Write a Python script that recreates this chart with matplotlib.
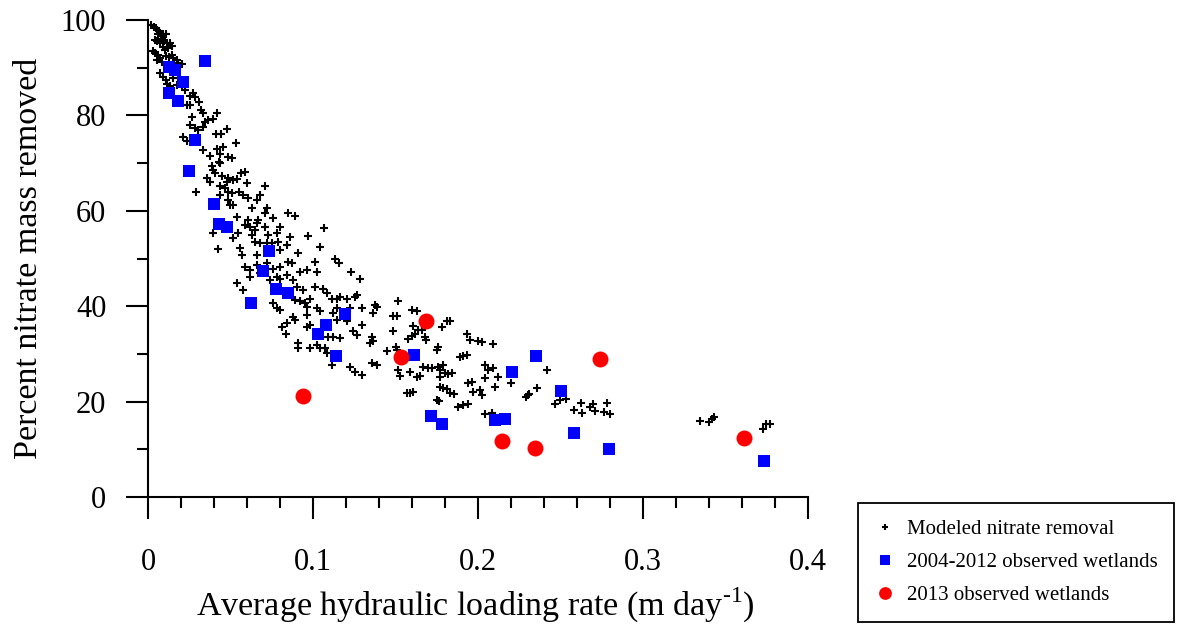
import numpy as np
import matplotlib
matplotlib.use("Agg")
import matplotlib.pyplot as plt
from matplotlib.ticker import MultipleLocator

plt.rcParams["font.family"] = ["Liberation Serif", "DejaVu Serif"]
plt.rcParams["mathtext.fontset"] = "custom"
plt.rcParams["mathtext.rm"] = "Liberation Serif"

# -------- DATA --------
# modeled nitrate removal: (hydraulic loading rate, percent removed)
model_x = [
    0.0020, 0.0036, 0.0048, 0.0057, 0.0069, 0.0063, 0.0077, 0.0093, 0.0109, 0.0083,
    0.0097, 0.0113, 0.0133, 0.0143, 0.0123, 0.0103, 0.0089, 0.0073, 0.0053, 0.0042,
    0.0032, 0.0042, 0.0063, 0.0073, 0.0053, 0.0083, 0.0109, 0.0129, 0.0143, 0.0154,
    0.0174, 0.0204, 0.0184, 0.0073, 0.0093, 0.0109, 0.0117, 0.0133, 0.0154, 0.0174,
    0.0204, 0.0224, 0.0255, 0.0275, 0.0285, 0.0311, 0.0234, 0.0255, 0.0321, 0.0335,
    0.0420, 0.0265, 0.0255, 0.0285, 0.0305, 0.0345, 0.0366, 0.0392, 0.0335, 0.0477,
    0.0412, 0.0442, 0.0214, 0.0234, 0.0335, 0.0420, 0.0436, 0.0453, 0.0531, 0.0376,
    0.0432, 0.0483, 0.0507, 0.0386, 0.0396, 0.0406, 0.0436, 0.0356, 0.0376, 0.0446,
    0.0487, 0.0481, 0.0517, 0.0537, 0.0562, 0.0588, 0.0598, 0.0436, 0.0467, 0.0487,
    0.0507, 0.0554, 0.0578, 0.0608, 0.0659, 0.0679, 0.0709, 0.0291, 0.0436, 0.0487,
    0.0497, 0.0517, 0.0719, 0.0628,
    0.0392, 0.0426, 0.0558, 0.0568, 0.0517, 0.0547, 0.0537, 0.0588, 0.0618, 0.0608,
    0.0659, 0.0669, 0.0648, 0.0628, 0.0709, 0.0709, 0.0760, 0.0800, 0.0780, 0.0790,
    0.0729, 0.0749, 0.0861, 0.0851, 0.0891, 0.0972, 0.1067, 0.1042, 0.0911, 0.0840,
    0.0800, 0.0719, 0.0679, 0.0648, 0.0659, 0.0588, 0.0618, 0.0659, 0.0719, 0.0760,
    0.0800, 0.0851, 0.0871, 0.0780, 0.0800, 0.0840, 0.0881, 0.0901, 0.0941, 0.0921,
    0.0962, 0.1012, 0.1026, 0.1133, 0.1160, 0.1228, 0.1285, 0.0537, 0.0578, 0.0618,
    0.0679, 0.0739, 0.0756, 0.0780, 0.0800, 0.0891, 0.0921, 0.0952, 0.0962, 0.0982,
    0.1012, 0.1063, 0.1083, 0.1113, 0.1143, 0.1164, 0.1204, 0.1255, 0.1265, 0.1295,
    0.1224, 0.1143, 0.1123, 0.1042, 0.1022, 0.0962, 0.0881, 0.0962, 0.0982, 0.0810,
    0.0836, 0.0840, 0.0891, 0.1143, 0.1204, 0.1244, 0.1265, 0.1295, 0.1356, 0.1345,
    0.1366, 0.1376, 0.1386, 0.1366, 0.1093, 0.1123, 0.1164, 0.1022, 0.1042, 0.0911,
    0.0911, 0.0982, 0.1073, 0.1083, 0.1113, 0.1224, 0.1255, 0.1295, 0.1356, 0.1386,
    0.1517, 0.1487, 0.1507, 0.1598, 0.1628, 0.1608, 0.1638, 0.1659, 0.1679, 0.1685,
    0.1780, 0.1810, 0.1830, 0.1578, 0.1598, 0.1618, 0.1483, 0.1446, 0.1501, 0.1507,
    0.1517, 0.1527, 0.1588, 0.1628, 0.1648, 0.1669, 0.1699, 0.1719, 0.1760, 0.1770,
    0.1786, 0.1800, 0.1820, 0.1840, 0.1750, 0.1760, 0.1770, 0.1931, 0.1952, 0.2002,
    0.2022, 0.2089, 0.1891, 0.1911, 0.1931, 0.2042, 0.2063, 0.2093, 0.2123, 0.1941,
    0.1962, 0.1972, 0.2012, 0.2022, 0.2042, 0.2103, 0.1770, 0.1790, 0.1810, 0.1830,
    0.1855, 0.1750, 0.1766, 0.1568, 0.1588, 0.1608, 0.1881, 0.1911, 0.1941, 0.2042,
    0.2083,
    0.2416, 0.2360, 0.2291, 0.2301, 0.2311, 0.2467, 0.2497, 0.2533, 0.2622, 0.2582,
    0.2628, 0.2679, 0.2695, 0.2709, 0.2766, 0.2800, 0.2780, 0.2200,
    0.3345, 0.3402, 0.3416, 0.3430, 0.3729, 0.3745, 0.3770,
]
model_y = [
    99.0, 98.6, 98.3, 97.9, 97.6, 97.1, 96.6, 97.1, 97.1, 96.0,
    95.5, 95.1, 95.1, 94.5, 94.1, 93.8, 94.3, 95.1, 95.5, 95.8,
    93.4, 93.0, 92.7, 92.0, 91.6, 91.1, 92.5, 92.3, 92.7, 92.0,
    91.6, 90.8, 90.9, 88.8, 88.1, 87.4, 86.6, 86.2, 87.8, 86.4,
    86.4, 85.3, 84.1, 84.6, 83.8, 82.9, 82.2, 82.2, 81.1, 80.4,
    80.4, 79.7, 78.0, 77.3, 76.9, 78.7, 79.0, 79.2, 77.6, 77.1,
    76.1, 76.2, 75.5, 74.7, 72.7, 72.9, 72.0, 73.4, 74.3, 71.5,
    70.3, 71.3, 71.0, 69.3, 68.6, 67.9, 70.0, 66.8, 66.1, 67.2,
    66.8, 66.1, 66.5, 66.6, 68.0, 68.1, 65.8, 65.1, 64.7, 64.0,
    63.7, 64.0, 63.3, 62.6, 62.3, 63.3, 65.1, 64.0, 63.3, 62.3,
    61.2, 61.2, 60.5, 60.5,
    55.3, 51.9, 52.1, 50.7, 54.2, 55.3, 58.8, 57.0, 56.7, 58.1,
    57.4, 58.1, 56.0, 54.9, 56.7, 59.5, 58.4, 56.7, 55.3, 53.5,
    54.9, 53.2, 54.6, 59.6, 58.9, 54.7, 56.3, 52.5, 51.1, 52.8,
    51.8, 53.2, 53.2, 53.5, 50.7, 48.3, 47.6, 48.6, 49.0, 47.9,
    48.3, 49.3, 49.0, 46.2, 45.8, 46.5, 45.5, 44.1, 43.4, 47.2,
    47.6, 49.3, 47.2, 50.0, 49.1, 47.2, 45.8, 44.8, 43.4, 46.2,
    46.9, 45.5, 40.6, 39.6, 39.2, 41.3, 41.0, 40.6, 39.9, 41.6,
    44.1, 43.7, 42.7, 41.6, 41.6, 42.0, 41.6, 42.0, 42.3, 39.6,
    39.6, 39.6, 38.5, 38.9, 39.6, 38.2, 37.8, 35.7, 36.1, 35.7,
    34.1, 36.4, 37.1, 37.1, 36.8, 34.7, 34.0, 36.1, 33.6, 32.2,
    32.6, 40.3, 39.9, 38.5, 33.6, 33.6, 33.3, 31.9, 31.2, 32.2,
    31.2, 31.2, 31.2, 30.1, 27.7, 27.3, 26.3, 25.6, 28.0, 27.7,
    41.0, 38.0, 38.0, 39.1, 38.9, 35.8, 35.0, 35.0, 33.5, 32.9,
    35.7, 36.8, 37.0, 33.1, 33.8, 34.1, 34.7, 30.6, 31.4, 30.8,
    26.6, 25.4, 26.3, 25.1, 25.4, 27.3, 27.0, 27.0, 27.2, 26.6,
    27.7, 25.9, 25.7, 25.9, 30.8, 31.5, 25.1, 34.2, 32.9, 32.8,
    32.4, 32.1, 29.3, 29.6, 29.8, 27.7, 26.6, 27.0, 25.2, 24.0,
    24.2, 22.1, 22.4, 21.4, 24.9, 23.1, 23.1, 22.8, 22.6, 21.7,
    21.6, 20.3, 20.1, 21.7, 21.7, 22.1, 18.9, 19.3, 19.6, 17.5,
    17.7,
    26.6, 22.9, 20.9, 21.4, 21.6, 19.6, 20.3, 20.5, 19.8, 18.2,
    17.7, 18.8, 19.4, 18.1, 17.8, 17.5, 19.8, 24.0,
    16.0, 15.8, 16.3, 16.7, 14.3, 15.4, 15.3,
]

# 2004-2012 observed wetlands
obs_x = [0.0129, 0.0162, 0.0214, 0.0125, 0.0182, 0.0347, 0.0285, 0.0250, 0.0400, 0.0432,
         0.0477, 0.0733, 0.0697, 0.0774, 0.0848, 0.0622, 0.1192, 0.1079, 0.1030, 0.1139,
         0.1610, 0.1717, 0.1780, 0.2101, 0.2164, 0.2350, 0.2208, 0.2503, 0.2580, 0.2796,
         0.3731]
obs_y = [90.2, 89.5, 86.9, 84.6, 83.0, 91.4, 74.8, 68.3, 61.4, 57.2,
         56.5, 51.6, 47.4, 43.6, 42.7, 40.6, 38.3, 36.0, 34.1, 29.6,
         29.7, 16.9, 15.2, 16.1, 16.4, 29.5, 26.2, 22.3, 13.5, 10.0,
         7.5]

# 2013 observed wetlands
obs13_x = [0.1687, 0.1533, 0.0941, 0.2737, 0.2147, 0.2345, 0.3610]
obs13_y = [37.0, 29.4, 21.2, 29.0, 11.7, 10.3, 12.4]

x_ticks = [0, 0.1, 0.2, 0.3, 0.4]
x_ticklabels = ["0", "0.1", "0.2", "0.3", "0.4"]

# -------- PLOT --------
fig = plt.figure(figsize=(11.77, 6.25), dpi=100)
ax = fig.add_axes([148 / 1177, 128 / 625, 660 / 1177, 477 / 625])

ax.plot(model_x, model_y, "+", color="black", ms=5.5, mew=1.5, ls="none",
        label="Modeled nitrate removal")
ax.plot(obs_x, obs_y, "s", color="#0000ff", ms=8.5, mew=0, ls="none",
        label="2004-2012 observed wetlands")
ax.plot(obs13_x, obs13_y, "o", color="#ff0000", ms=11.5, mew=0, ls="none",
        label="2013 observed wetlands")

ax.set_xlim(0, 0.4)
ax.set_ylim(0, 100)
ax.set_xticks(x_ticks)
ax.set_xticklabels(x_ticklabels)
ax.xaxis.set_minor_locator(MultipleLocator(0.02))
ax.yaxis.set_major_locator(MultipleLocator(20))
ax.yaxis.set_minor_locator(MultipleLocator(10))

for side in ["top", "right"]:
    ax.spines[side].set_visible(False)
for side in ["left", "bottom"]:
    ax.spines[side].set_linewidth(1.5)

ax.tick_params(which="major", direction="out", length=16, width=1.5, labelsize=22)
ax.tick_params(which="minor", direction="out", length=8, width=1.5)
ax.tick_params(axis="x", which="major", pad=21)
ax.tick_params(axis="y", which="major", pad=14)

ax.set_xlabel("Average hydraulic loading rate (m day$^{\\mathregular{\u20101}}$)", fontsize=24.5)
ax.set_ylabel("Percent nitrate mass removed", fontsize=24.5)
ax.xaxis.set_label_coords(475 / 1177, 1 - 586 / 625, transform=fig.transFigure)
ax.yaxis.set_label_coords(44 / 1177, 0.5, transform=ax.transAxes)
ax.yaxis.label.set_transform(matplotlib.transforms.blended_transform_factory(
    fig.transFigure, ax.transAxes))

leg = ax.legend(loc="upper left", bbox_to_anchor=(858 / 1177, 1 - 503 / 625),
                bbox_transform=fig.transFigure, fontsize=15, frameon=True,
                fancybox=False, edgecolor="black", framealpha=1,
                handlelength=1.0, handletextpad=0.55, borderpad=0.8,
                borderaxespad=0, labelspacing=0.65, markerscale=0.8)
leg.get_frame().set_linewidth(1.3)

fig.savefig("out.png", dpi=100)
